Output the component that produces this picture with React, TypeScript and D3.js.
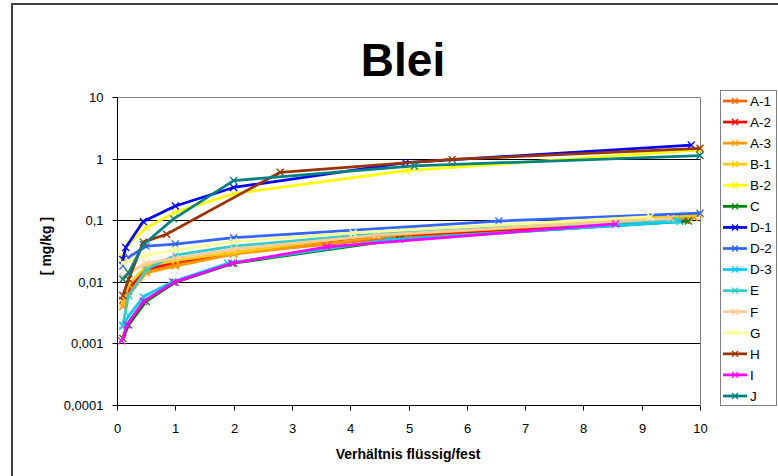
import React, { useRef, useEffect } from 'react';
import * as d3 from 'd3';

// Leaching results for lead, one array per sample: [L/S ratio, mg/kg]
const seriesNames = ['A-1', 'A-2', 'A-3', 'B-1', 'B-2', 'C', 'D-1', 'D-2', 'D-3', 'E', 'F', 'G', 'H', 'I', 'J'];
const seriesColors = ['#FF6600', '#FF0000', '#FF9900', '#FFCC00', '#FFFF00', '#008000', '#0000FF', '#3366FF', '#00CCFF', '#33CCCC', '#FFCC99', '#FFFF99', '#993300', '#FF00FF', '#008080'];

const a1 = [[0.1, 0.004], [0.2, 0.007], [0.5, 0.015], [1, 0.019], [2, 0.029], [5, 0.055], [9.9, 0.11]];
const a2 = [[0.1, 0.005], [0.2, 0.0078], [0.5, 0.016], [1, 0.021], [2, 0.03], [4.85, 0.057], [9.75, 0.1]];
const a3 = [[0.1, 0.004], [0.2, 0.006], [0.5, 0.014], [1, 0.018], [2, 0.028], [5, 0.06], [9.9, 0.11]];
const b1 = [[0.1, 0.0045], [0.2, 0.009], [0.5, 0.018], [1, 0.022], [2, 0.03], [4.95, 0.069], [10, 0.121]];
const b2 = [[0.1, 0.025], [0.2, 0.042], [0.5, 0.075], [1, 0.135], [2, 0.27], [4.95, 0.64], [10, 1.38]];
const c = [[0.1, 0.0012], [0.2, 0.002], [0.5, 0.0048], [1, 0.0098], [2, 0.02], [4.85, 0.049], [9.8, 0.097]];
const d1 = [[0.1, 0.023], [0.15, 0.036], [0.45, 0.095], [1, 0.17], [2, 0.34], [4.95, 0.86], [9.85, 1.66]];
const d2 = [[0.1, 0.018], [0.2, 0.025], [0.5, 0.038], [1, 0.041], [2, 0.052], [6.55, 0.097], [10, 0.13]];
const d3s = [[0.1, 0.0019], [0.2, 0.0028], [0.45, 0.0057], [0.95, 0.01], [1.9, 0.02], [4.65, 0.048], [9.65, 0.095]];
const e = [[0.1, 0.002], [0.2, 0.006], [0.5, 0.016], [1, 0.027], [2, 0.038], [4.85, 0.065], [9.6, 0.1]];
const f = [[0.1, 0.012], [0.2, 0.014], [0.5, 0.02], [1, 0.024], [2, 0.034], [4.45, 0.057], [9.5, 0.107]];
const g = [[0.1, 0.02], [0.2, 0.022], [0.5, 0.027], [1, 0.033], [2, 0.045], [4.05, 0.062], [9.15, 0.114]];
const h = [[0.1, 0.006], [0.2, 0.011], [0.45, 0.044], [0.85, 0.059], [2.8, 0.6], [5.75, 0.97], [10, 1.47]];
const i_ = [[0.08, 0.0011], [0.17, 0.002], [0.45, 0.0048], [0.97, 0.0098], [1.97, 0.02], [3.6, 0.037], [8.55, 0.087]];
const j = [[0.1, 0.011], [0.2, 0.014], [0.45, 0.04], [0.97, 0.105], [2, 0.44], [5.1, 0.76], [10, 1.12]];

const seriesData = [a1, a2, a3, b1, b2, c, d1, d2, d3s, e, f, g, h, i_, j];

const yTicks = [10, 1, 0.1, 0.01, 0.001, 0.0001];
const yTickLabels = ['10', '1', '0,1', '0,01', '0,001', '0,0001'];
const xTicks = [0, 1, 2, 3, 4, 5, 6, 7, 8, 9, 10];

const FONT = '"Liberation Sans", Arial, sans-serif';

const BleiChart = () => {
    const svgRef = useRef(null);

    useEffect(() => {
        const svg = d3.select(svgRef.current);
        svg.selectAll('*').remove();

        const width = 778;
        const height = 476;
        const margin = { top: 97, right: 78, bottom: 71, left: 117 };

        svg.append('rect').attr('width', width).attr('height', height).attr('fill', '#fff');

        // outer chart frame
        svg.append('rect')
            .attr('x', 12).attr('y', 4)
            .attr('width', 800).attr('height', 500)
            .attr('fill', 'none')
            .attr('stroke', '#404040')
            .attr('stroke-width', 2);

        const x = d3.scaleLinear().domain([0, 10]).range([margin.left, width - margin.right]);
        const y = d3.scaleLog().domain([0.0001, 10]).range([height - margin.bottom, margin.top]);

        const x0 = x(0), x1 = x(10), y0 = y(0.0001), y1 = y(10);

        // plot frame (top/right in gray)
        svg.append('path')
            .attr('d', `M${x0},${y1 + 0.5}H${x1 + 0.5}V${y0}`)
            .attr('fill', 'none')
            .attr('stroke', '#808080')
            .attr('stroke-width', 1);

        // gridlines
        svg.append('g')
            .selectAll('line')
            .data(yTicks.filter(t => t !== 10 && t !== 0.0001))
            .enter()
            .append('line')
            .attr('x1', x0).attr('x2', x1)
            .attr('y1', d => Math.round(y(d)) + 0.5)
            .attr('y2', d => Math.round(y(d)) + 0.5)
            .attr('stroke', '#000')
            .attr('stroke-width', 1);

        // y axis
        const yAxis = svg.append('g').attr('transform', `translate(${x0 + 0.5},0)`);
        yAxis.append('line').attr('y1', y1).attr('y2', y0 + 5).attr('stroke', '#000');
        yTicks.forEach((t, k) => {
            const yy = Math.round(y(t)) + 0.5;
            yAxis.append('line').attr('x1', -5).attr('x2', 0).attr('y1', yy).attr('y2', yy).attr('stroke', '#000');
            yAxis.append('text')
                .attr('x', -14).attr('y', yy)
                .attr('dy', '0.35em')
                .attr('text-anchor', 'end')
                .style('font-family', FONT)
                .style('font-size', '13px')
                .text(yTickLabels[k]);
        });

        // x axis
        const xAxis = svg.append('g').attr('transform', `translate(0,${Math.round(y0) + 0.5})`);
        xAxis.append('line').attr('x1', x0).attr('x2', x1).attr('stroke', '#000');
        xTicks.forEach(t => {
            const xx = Math.round(x(t)) + 0.5;
            xAxis.append('line').attr('x1', xx).attr('x2', xx).attr('y1', 0).attr('y2', 5).attr('stroke', '#000');
            xAxis.append('text')
                .attr('x', xx).attr('y', 27)
                .attr('text-anchor', 'middle')
                .style('font-family', FONT)
                .style('font-size', '13px')
                .text(t);
        });

        // series lines + x markers
        const line = d3.line().x(d => x(d[0])).y(d => y(d[1]));
        const cross = (sel, cx, cy, col, r = 3.5) => {
            sel.append('path')
                .attr('d', `M${cx - r},${cy - r}L${cx + r},${cy + r}M${cx - r},${cy + r}L${cx + r},${cy - r}`)
                .attr('stroke', col)
                .attr('stroke-width', 1.3)
                .attr('fill', 'none');
        };

        const plot = svg.append('g');
        seriesData.forEach((pts, k) => {
            const col = seriesColors[k];
            plot.append('path')
                .datum(pts)
                .attr('d', line)
                .attr('fill', 'none')
                .attr('stroke', col)
                .attr('stroke-width', 2.75)
                .attr('stroke-linejoin', 'round');
            pts.forEach(p => cross(plot, x(p[0]), y(p[1]), col));
        });

        // title
        svg.append('text')
            .attr('x', 403).attr('y', 76)
            .attr('text-anchor', 'middle')
            .style('font-family', FONT)
            .style('font-weight', 'bold')
            .style('font-size', '46px')
            .text('Blei');

        // axis titles
        svg.append('text')
            .attr('transform', 'translate(51,246) rotate(-90)')
            .attr('text-anchor', 'middle')
            .style('font-family', FONT)
            .style('font-weight', 'bold')
            .style('font-size', '14px')
            .text('[ mg/kg ]');

        svg.append('text')
            .attr('x', 408).attr('y', 459)
            .attr('text-anchor', 'middle')
            .style('font-family', FONT)
            .style('font-weight', 'bold')
            .style('font-size', '14px')
            .text('Verhältnis flüssig/fest');

        // legend
        const legend = svg.append('g').attr('transform', 'translate(720,90)');
        legend.append('rect')
            .attr('x', 0.5).attr('y', 0.5)
            .attr('width', 56).attr('height', 315)
            .attr('fill', '#fff')
            .attr('stroke', '#808080');
        seriesNames.forEach((name, k) => {
            const ly = 11 + k * 21.07;
            legend.append('line')
                .attr('x1', 3).attr('x2', 27)
                .attr('y1', ly).attr('y2', ly)
                .attr('stroke', seriesColors[k])
                .attr('stroke-width', 2.75);
            cross(legend, 15, ly, seriesColors[k], 3);
            legend.append('text')
                .attr('x', 30).attr('y', ly)
                .attr('dy', '0.36em')
                .style('font-family', FONT)
                .style('font-size', '13.5px')
                .text(name);
        });
    }, []);

    return (
        <svg ref={svgRef} width={778} height={476}
            style={{ position: 'absolute', left: 0, top: 0, display: 'block' }} />
    );
};

export default function App() {
    return <BleiChart />;
}
